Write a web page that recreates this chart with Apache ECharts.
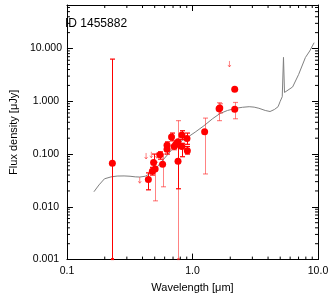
<!DOCTYPE html>
<html><head><meta charset="utf-8">
<script src="https://cdn.jsdelivr.net/npm/echarts@6/dist/echarts.min.js"></script>
<style>html,body{margin:0;padding:0;background:#fff}#c{width:332px;height:298px}</style>
</head><body><div id="c"></div>
<script>
// ---- data ----
const ptX = [0.230, 0.445, 0.479, 0.490, 0.504, 0.551, 0.578, 0.627, 0.627, 0.681, 0.715, 0.740, 0.767, 0.767, 0.823, 0.823, 0.904, 0.910, 1.25, 1.63, 1.65, 2.17, 2.17];
const ptY = [0.067, 0.033, 0.047, 0.069, 0.052, 0.097, 0.064, 0.147, 0.123, 0.210, 0.139, 0.153, 0.172, 0.073, 0.229, 0.139, 0.198, 0.115, 0.264, 0.72, 0.75, 0.706, 1.69];
const errLo = [0.0005, 0.021, 0.040, 0.047, 0.013, 0.080, 0.024, 0.120, 0.100, 0.178, 0.120, 0.135, 0.0005, 0.022, 0.190, 0.089, 0.153, 0.100, 0.042, 0.43, 0.60, 0.467, null];
const errHi = [6.3, 0.044, 0.056, 0.100, 0.070, 0.110, 0.100, 0.170, 0.150, 0.250, 0.160, 0.175, 0.43, 0.140, 0.277, 0.160, 0.250, 0.139, 0.48, 0.94, 0.90, 0.95, null];
const errStrong = [1, 1, 1, 1, 0, 1, 0, 1, 1, 1, 0, 0, 0, 1, 1, 1, 1, 1, 0, 0, 0, 0, 0];
const limX = [0.38, 0.427, 0.47, 0.52, 1.97];
const limY = [0.032, 0.092, 0.097, 0.095, 5.1];
const modelX = [0.164, 0.18, 0.199, 0.225, 0.251, 0.285, 0.318, 0.35, 0.38, 0.42, 0.455, 0.481, 0.51, 0.541, 0.59, 0.646, 0.70, 0.749, 0.83, 0.92, 1.05, 1.236, 1.45, 1.66, 1.9, 2.23, 2.5, 2.83, 3.1, 3.38, 3.8, 4.15, 4.5, 4.81, 5.0, 5.19, 5.31, 5.41, 6.28, 7.0, 7.94, 8.6, 9.31];
const modelY = [0.0193, 0.026, 0.034, 0.037, 0.0383, 0.0385, 0.038, 0.037, 0.0367, 0.038, 0.042, 0.0454, 0.052, 0.063, 0.08, 0.103, 0.128, 0.153, 0.18, 0.21, 0.26, 0.345, 0.47, 0.588, 0.67, 0.738, 0.77, 0.79, 0.775, 0.738, 0.67, 0.64, 0.70, 0.79, 1.0, 1.22, 6.8, 1.47, 1.87, 3.2, 6.77, 9.0, 12.9];
const xMinor = [0.2,0.3,0.4,0.5,0.6,0.7,0.8,0.9,2,3,4,5,6,7,8,9];
const yMinor = [0.002,0.003,0.004,0.005,0.006,0.007,0.008,0.009,0.02,0.03,0.04,0.05,0.06,0.07,0.08,0.09,0.2,0.3,0.4,0.5,0.6,0.7,0.8,0.9,2,3,4,5,6,7,8,9,20,30,40,50,60];
const xRange = [0.1, 10];
const yRange = [0.001, 66.8];
const idText = 'ID 1455882';

const FONT = '"Liberation Sans", Arial, Helvetica, sans-serif';
const RED = '#ff0000';
const PINK = 'rgba(255,30,30,0.55)';

const chart = echarts.init(document.getElementById('c'), null, {renderer: 'canvas'});

const errData = ptX.map((x, i) => errLo[i] == null ? null : [x, errLo[i], errHi[i], errStrong[i]]).filter(d => d);
const minorData = xMinor.map(v => [0, v]).concat(yMinor.map(v => [1, v]));

function isDecade(v){ const e = Math.log10(v); return Math.abs(e - Math.round(e)) < 1e-6; }

const axisCommon = {
  axisLine: {show: true, lineStyle: {color: '#000', width: 1}},
  axisTick: {show: true, inside: true, length: 6, lineStyle: {color: '#000'}},
  splitLine: {show: false},
  minorTick: {show: false}
};

chart.setOption({
  animation: false,
  backgroundColor: '#fff',
  grid: {left: 58, right: 14, top: 5, bottom: 34, containLabel: false},
  xAxis: [
    Object.assign({type: 'log', logBase: 10, min: xRange[0], max: xRange[1], position: 'bottom',
      name: 'Wavelength [\u03bcm]', nameLocation: 'middle', nameGap: 23,
      nameTextStyle: {fontFamily: FONT, fontSize: 11, color: '#000', verticalAlign: 'middle', align: 'center'},
      axisLabel: {fontFamily: FONT, fontSize: 10.5, color: '#000', margin: 12, verticalAlign: 'middle',
        formatter: v => isDecade(v) ? v.toFixed(1) : ''}}, axisCommon),
    Object.assign({type: 'log', logBase: 10, min: xRange[0], max: xRange[1], position: 'top',
      axisLabel: {show: false}}, axisCommon)
  ],
  yAxis: [
    Object.assign({type: 'log', logBase: 10, min: yRange[0], max: yRange[1], position: 'left',
      name: 'Flux density [\u03bcJy]', nameLocation: 'middle', nameGap: 49, nameRotate: 90,
      nameTextStyle: {fontFamily: FONT, fontSize: 11, color: '#000', verticalAlign: 'middle', align: 'center'},
      axisLabel: {fontFamily: FONT, fontSize: 10.5, color: '#000', margin: 4, align: 'right',
        formatter: v => isDecade(v) ? '{a|' + v.toFixed(3) + '}' : '',
        rich: {a: {width: 34, align: 'center', fontFamily: FONT, fontSize: 10.5, color: '#000'}}}}, axisCommon),
    Object.assign({type: 'log', logBase: 10, min: yRange[0], max: yRange[1], position: 'right',
      axisLabel: {show: false}}, axisCommon)
  ],
  graphic: [{type: 'text', x: 65, y: 24, style: {text: idText, font: '12px ' + FONT, fill: '#000', verticalAlign: 'middle'}}],
  series: [
    {
      type: 'custom', name: 'minor', silent: true, z: 5,
      data: minorData,
      renderItem: function(params, api){
        const cs = params.coordSys;
        const which = api.value(0), v = api.value(1);
        const L = 3;
        if (which === 0) {
          const px = api.coord([v, 1])[0];
          const b = cs.y + cs.height, t = cs.y;
          return {type: 'group', children: [
            {type: 'line', shape: {x1: px, y1: b, x2: px, y2: b - L}, style: {stroke: '#000', lineWidth: 1}},
            {type: 'line', shape: {x1: px, y1: t, x2: px, y2: t + L}, style: {stroke: '#000', lineWidth: 1}}
          ]};
        } else {
          const py = api.coord([1, v])[1];
          const l = cs.x, r = cs.x + cs.width;
          return {type: 'group', children: [
            {type: 'line', shape: {x1: l, y1: py, x2: l + L, y2: py}, style: {stroke: '#000', lineWidth: 1}},
            {type: 'line', shape: {x1: r, y1: py, x2: r - L, y2: py}, style: {stroke: '#000', lineWidth: 1}}
          ]};
        }
      }
    },
    {
      type: 'line', name: 'model', data: modelX.map((x, i) => [x, modelY[i]]),
      showSymbol: false, symbol: 'none', smooth: false,
      lineStyle: {color: '#808080', width: 1}, z: 2
    },
    {
      type: 'custom', name: 'errors', z: 3,
      data: errData,
      renderItem: function(params, api){
        const cs = params.coordSys;
        const x = api.value(0), lo = api.value(1), hi = api.value(2), strong = api.value(3);
        const pt = api.coord([x, hi]), pb = api.coord([x, lo]);
        const px = Math.round(pt[0]) + 0.5;
        const bottom = cs.y + cs.height, top = cs.y;
        const yt = Math.max(pt[1], top), yb = Math.min(pb[1], bottom);
        const col = strong ? RED : PINK;
        const ch = [{type: 'line', shape: {x1: px, y1: yt, x2: px, y2: yb}, style: {stroke: col, lineWidth: 1}}];
        if (pt[1] >= top) ch.push({type: 'line', shape: {x1: px - 2.5, y1: yt, x2: px + 2.5, y2: yt}, style: {stroke: col, lineWidth: 1.2}});
        if (pb[1] <= bottom) ch.push({type: 'line', shape: {x1: px - 2.5, y1: yb, x2: px + 2.5, y2: yb}, style: {stroke: col, lineWidth: 1.2}});
        else ch.push({type: 'line', shape: {x1: px - 1.5, y1: bottom - 0.5, x2: px + 1.5, y2: bottom - 0.5}, style: {stroke: col, lineWidth: 2}});
        return {type: 'group', children: ch};
      }
    },
    {
      type: 'scatter', name: 'points', data: ptX.map((x, i) => [x, ptY[i]]),
      symbol: 'circle', symbolSize: 7, itemStyle: {color: RED, opacity: 1}, z: 4
    },
    {
      type: 'custom', name: 'limits', z: 3,
      data: limX.map((x, i) => [x, limY[i]]),
      renderItem: function(params, api){
        const p = api.coord([api.value(0), api.value(1)]);
        const col = PINK;
        return {type: 'group', children: [
          {type: 'line', shape: {x1: p[0], y1: p[1] - 3, x2: p[0], y2: p[1] + 3}, style: {stroke: col, lineWidth: 1}},
          {type: 'polyline', shape: {points: [[p[0] - 1.5, p[1] + 1], [p[0], p[1] + 3], [p[0] + 1.5, p[1] + 1]]}, style: {stroke: col, lineWidth: 1, fill: null}}
        ]};
      }
    }
  ]
});
</script></body></html>
